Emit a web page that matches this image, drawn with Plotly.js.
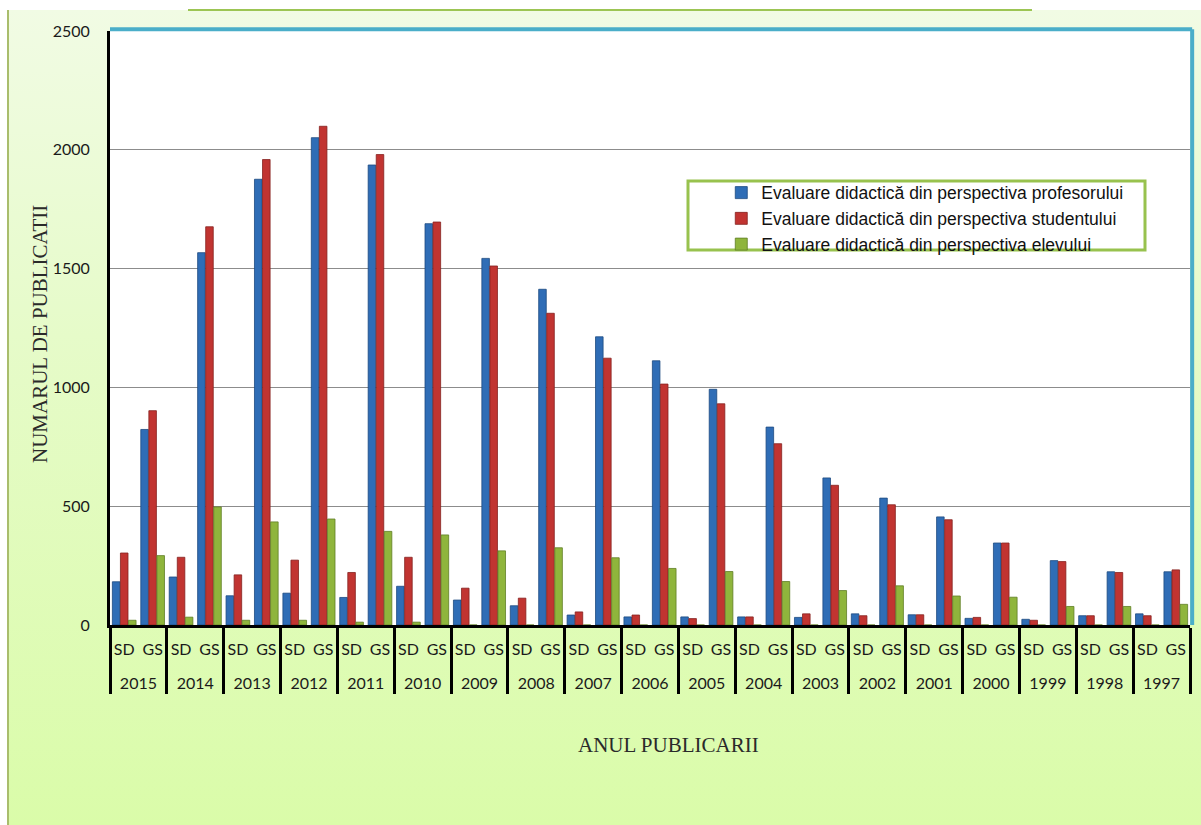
<!DOCTYPE html>
<html>
<head>
<meta charset="utf-8">
<script src="https://cdn.plot.ly/plotly-3.0.1.min.js"></script>
<style>
  html, body { margin: 0; padding: 0; background: #ffffff; }
  #wrap { position: relative; width: 1201px; height: 825px; overflow: hidden; }
  #bg { position: absolute; left: 8px; top: 10px; right: 0; bottom: 0;
        background: linear-gradient(to bottom, #f1fbe4 0%, #e6fbc9 40%, #dafca9 100%); }
  #chart { position: absolute; left: 0; top: 0; width: 1201px; height: 825px; }
</style>
</head>
<body>
<div id="wrap">
  <div id="bg"></div>
  <div id="chart"></div>
</div>
<script>
// Publication years and the two databases searched for each year
const years = ['2015','2014','2013','2012','2011','2010','2009','2008','2007','2006',
               '2005','2004','2003','2002','2001','2000','1999','1998','1997'];
const sources = ['SD', 'GS'];

// Number of publications per year, ScienceDirect (SD) and Google Scholar (GS)
const profesorSD = [182, 202, 123, 134, 116, 163, 105, 81, 42, 34, 34, 34, 32, 47, 43, 28, 24, 39, 47];
const profesorGS = [823, 1567, 1876, 2051, 1936, 1689, 1543, 1413, 1213, 1112, 992, 833, 619, 534, 455, 345, 271, 224, 224];
const studentSD  = [303, 285, 211, 273, 221, 285, 155, 113, 55, 42, 27, 34, 47, 39, 43, 32, 20, 39, 39];
const studentGS  = [902, 1676, 1959, 2099, 1980, 1696, 1511, 1312, 1123, 1014, 931, 763, 588, 506, 443, 345, 267, 221, 232];
const elevSD     = [20, 33, 20, 20, 12, 12, 0, 0, 0, 0, 0, 0, 0, 0, 0, 0, 0, 0, 0];
const elevGS     = [292, 497, 434, 446, 394, 379, 312, 325, 283, 238, 225, 183, 145, 165, 122, 117, 78, 78, 87];

const seriesNames = [
  'Evaluare didactică din perspectiva profesorului',
  'Evaluare didactică din perspectiva studentului',
  'Evaluare didactică din perspectiva elevului'
];

// Two-level category axis: outer = year, inner = source.
// The inner label gets an empty second line so the year row sits lower.
const outer = [], inner = [];
years.forEach(y => sources.forEach(s => { outer.push(y); inner.push(s + '<br> '); }));

function interleave(sd, gs) {
  const out = [];
  sd.forEach((v, i) => { out.push(v); out.push(gs[i]); });
  return out;
}

const fills = ['#2f6db6', '#c13431', '#8fb53c'];
const edges = ['#1d4a80', '#852220', '#5f7d24'];
const seriesValues = [
  interleave(profesorSD, profesorGS),
  interleave(studentSD, studentGS),
  interleave(elevSD, elevGS)
];

const traces = seriesValues.map((vals, i) => ({
  type: 'bar',
  name: seriesNames[i],
  x: [outer, inner],
  y: vals,
  marker: { color: fills[i], line: { color: edges[i], width: 0.8 } },
  hoverinfo: 'x+y+name'
}));

const tickFont = { family: 'Lato, "Open Sans", sans-serif', size: 16, color: '#1a1a1a' };
const titleFont = { family: '"Liberation Serif", "DejaVu Serif", serif', size: 21, color: '#2a2a2a' };

const layout = {
  width: 1201,
  height: 825,
  paper_bgcolor: 'rgba(0,0,0,0)',
  plot_bgcolor: '#ffffff',
  margin: { l: 110, r: 11, t: 31, b: 200 },
  barmode: 'group',
  bargap: 0.15,
  bargroupgap: 0.06,
  showlegend: true,
  legend: {
    x: 0.566, y: 0.758, xanchor: 'left', yanchor: 'top',
    bgcolor: 'rgba(0,0,0,0)', borderwidth: 0,
    font: { family: '"Liberation Sans", Arial, sans-serif', size: 17.5, color: '#111' },
    tracegroupgap: 0, itemwidth: 30
  },
  xaxis: {
    type: 'multicategory',
    showline: true, linecolor: '#000', linewidth: 3,
    showdividers: true, dividercolor: '#000', dividerwidth: 3,
    showgrid: false, ticks: '', tickangle: 0,
    ticklabelstandoff: 8,
    tickfont: tickFont
  },
  yaxis: {
    range: [0, 2500], dtick: 500,
    showline: true, linecolor: '#000', linewidth: 3,
    gridcolor: '#8c8c8c', gridwidth: 1,
    zeroline: false, ticks: '',
    ticklabelstandoff: 14,
    tickfont: tickFont
  },
  annotations: [
    { text: 'NUMARUL DE PUBLICATII', xref: 'paper', yref: 'paper',
      x: (40 - 110) / 1080, y: (625 - 334) / 594, textangle: -90,
      showarrow: false, font: titleFont, xanchor: 'center', yanchor: 'middle' },
    { text: 'ANUL PUBLICARII', xref: 'paper', yref: 'paper',
      x: (668 - 110) / 1080, y: (625 - 745) / 594,
      showarrow: false, font: titleFont, xanchor: 'center', yanchor: 'middle' }
  ],
  shapes: [
    // legend frame
    { type: 'rect', xref: 'paper', yref: 'paper',
      x0: (688 - 110) / 1080, x1: (1145 - 110) / 1080,
      y0: (625 - 250) / 594, y1: (625 - 181) / 594,
      fillcolor: '#ffffff', line: { color: '#98c24e', width: 3 } },
    // teal frame of the plot area, top and right
    { type: 'line', xref: 'paper', yref: 'paper', x0: 0, x1: 1.002, y0: 1.003, y1: 1.003,
      line: { color: '#4aaec9', width: 4 } },
    { type: 'line', xref: 'paper', yref: 'paper', x0: 1.002, x1: 1.002, y0: 0, y1: 1.003,
      line: { color: '#4aaec9', width: 4 } },
    // page frame lines
    { type: 'line', xref: 'paper', yref: 'paper',
      x0: (8 - 110) / 1080, x1: (8 - 110) / 1080, y0: (625 - 10) / 594, y1: (625 - 825) / 594,
      line: { color: '#a9bd6c', width: 2 } },
    { type: 'line', xref: 'paper', yref: 'paper',
      x0: (188 - 110) / 1080, x1: (1032 - 110) / 1080, y0: (625 - 10) / 594, y1: (625 - 10) / 594,
      line: { color: '#9cc553', width: 2 } }
  ]
};

Plotly.newPlot('chart', traces, layout, { displayModeBar: false, responsive: false });
</script>
</body>
</html>
